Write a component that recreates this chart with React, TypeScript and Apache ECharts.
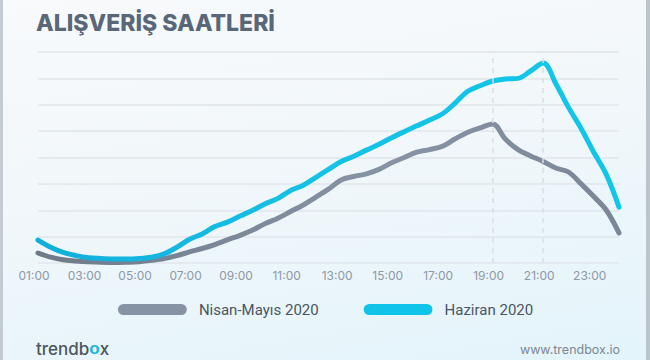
import React, { useEffect, useRef } from "react";
import * as echarts from "echarts";

const hours: number[] = [
  1, 1.5, 2, 2.5, 3, 3.5, 4, 4.5, 5, 5.5, 6, 6.5, 7, 7.5, 8, 8.5, 9, 9.5, 10, 10.5, 11, 11.5,
  12, 12.5, 13, 13.5, 14, 14.5, 15, 15.5, 16, 16.5, 17, 17.5, 18, 18.5, 19, 19.5, 20, 20.5,
  21, 21.5, 22, 22.5, 23, 23.5, 24,
];

const nisanMayis: number[] = [
  0.38, 0.22, 0.12, 0.08, 0.05, 0.03, 0.02, 0.03, 0.05, 0.1, 0.17, 0.28, 0.42, 0.55, 0.7, 0.88,
  1.05, 1.25, 1.5, 1.7, 1.95, 2.2, 2.5, 2.8, 3.15, 3.28, 3.38, 3.55, 3.8, 4.0, 4.2, 4.3, 4.42,
  4.7, 4.95, 5.12, 5.27, 4.7, 4.3, 4.06, 3.85, 3.6, 3.45, 3.0, 2.52, 2.0, 1.14,
];

const haziran: number[] = [
  0.87, 0.6, 0.4, 0.28, 0.2, 0.17, 0.15, 0.15, 0.17, 0.22, 0.35, 0.6, 0.9, 1.1, 1.38, 1.55,
  1.78, 2.0, 2.25, 2.45, 2.75, 2.95, 3.25, 3.55, 3.85, 4.05, 4.28, 4.5, 4.75, 4.98, 5.2, 5.42,
  5.65, 6.05, 6.5, 6.72, 6.9, 6.98, 7.0, 7.28, 7.58, 6.8, 5.9, 5.1, 4.2, 3.35, 2.12,
];

const seriesNames = ["Nisan-Mayıs 2020", "Haziran 2020"];
const markedHours = [19, 21];
const titleText = "ALIŞVERİŞ SAATLERİ";

const pad = (h: number) => (h < 10 ? "0" + h : "" + h) + ":00";

export default function App() {
  const ref = useRef<HTMLDivElement>(null);
  useEffect(() => {
    if (!ref.current) return;
    const chart = echarts.init(ref.current, null, { renderer: "svg" });
    const pill = "path://M6,0 L69,0 A6,6 0 0 1 69,12 L6,12 A6,6 0 0 1 6,0 Z";
    chart.setOption({
      animation: false,
      textStyle: { fontFamily: "Inter, Roboto, sans-serif" },
      title: {
        text: titleText,
        left: 31,
        top: 6,
        textStyle: { fontSize: 23, fontWeight: 800, color: "#5a6779", fontFamily: "Inter, Roboto, sans-serif" },
      },
      grid: { left: 38, right: 31, top: 52, bottom: 97 },
      legend: {
        left: 118,
        top: 302,
        padding: 0,
        itemWidth: 75,
        itemHeight: 11,
        itemGap: 45,
        data: [
          { name: seriesNames[0], icon: pill, itemStyle: { color: "#8693a4" } },
          { name: seriesNames[1], icon: pill, itemStyle: { color: "#10c4e9" } },
        ],
        textStyle: { fontSize: 15, color: "#4b5563", fontFamily: "Roboto, sans-serif", padding: [0, 0, 0, 4] },
      },
      xAxis: {
        type: "value",
        min: 1,
        max: 24,
        interval: 2,
        axisLine: { show: false },
        axisTick: { show: false },
        splitLine: { show: false },
        axisLabel: {
          showMaxLabel: false,
          color: "#8d98a6",
          fontSize: 12,
          margin: 6,
          padding: [0, 8, 0, 0],
          formatter: (v: number) => pad(v),
        },
      },
      yAxis: {
        type: "value",
        min: 0,
        max: 8,
        interval: 1,
        axisLine: { show: false },
        axisTick: { show: false },
        axisLabel: { show: false },
        splitLine: { lineStyle: { color: "#e1e6eb", width: 1.5 } },
      },
      series: [
        {
          name: seriesNames[0],
          type: "line",
          smooth: 0.35,
          symbol: "none",
          data: hours.map((h, i) => [h, nisanMayis[i]]),
          lineStyle: {
            width: 5,
            cap: "round",
            join: "round",
            color: new echarts.graphic.LinearGradient(0, 0, 1, 0, [
              { offset: 0, color: "#6f7a89" },
              { offset: 0.6, color: "#8794a4" },
              { offset: 1, color: "#7b8797" },
            ]),
          },
          itemStyle: { color: "#8693a4" },
          markLine: {
            silent: true,
            symbol: "none",
            label: { show: false },
            lineStyle: { type: [5, 5], color: "#d9dfe5", width: 1.5 },
            data: markedHours.map((h) => ({ xAxis: h })),
          },
          z: 2,
        },
        {
          name: seriesNames[1],
          type: "line",
          smooth: 0.35,
          symbol: "none",
          data: hours.map((h, i) => [h, haziran[i]]),
          lineStyle: {
            width: 5,
            cap: "round",
            join: "round",
            color: new echarts.graphic.LinearGradient(0, 0, 1, 0, [
              { offset: 0, color: "#12aedb" },
              { offset: 0.5, color: "#16c2e7" },
              { offset: 1, color: "#10c6ea" },
            ]),
          },
          itemStyle: { color: "#10c4e9" },
          z: 3,
        },
      ],
      graphic: [
        { type: "rect", left: 0, top: 0, shape: { width: 3, height: 360 }, style: { fill: "#c4cbd3" }, z: 10 },
        { type: "rect", left: 646, top: 0, shape: { width: 4, height: 360 }, style: { fill: "#bcc4cc" }, z: 10 },
        {
          type: "text",
          left: 36,
          top: 340,
          style: {
            text: "trendb{o|o}x",
            fontSize: 17,
            fontWeight: 500,
            fill: "#4e5661",
            fontFamily: "Inter, Roboto, sans-serif",
            rich: { o: { fontSize: 17, fontWeight: 800, fill: "#19b6e3", color: "#19b6e3" } },
          },
        },
        {
          type: "text",
          right: 30,
          top: 343,
          style: {
            text: "www.trendbox.io",
            fontSize: 12.5,
            fill: "#7d8793",
            fontFamily: "Inter, Roboto, sans-serif",
          },
        },
      ],
    });
    return () => chart.dispose();
  }, []);
  return (
    <div
      ref={ref}
      style={{
        position: "fixed",
        left: 0,
        top: 0,
        width: 650,
        height: 360,
        background: "linear-gradient(170deg, #f8fafc 0%, #f1f7fa 45%, #e3f4fb 100%)",
      }}
    />
  );
}
